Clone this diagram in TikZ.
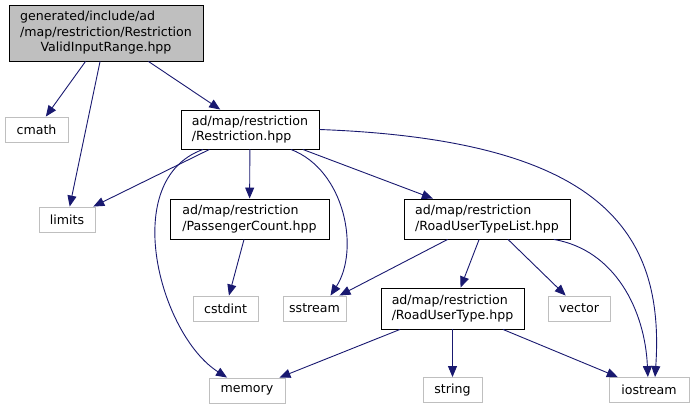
\documentclass[tikz,border=0pt]{standalone}
\usepackage{fontspec}
\setmainfont{DejaVu Sans}
\usetikzlibrary{arrows.meta}
\definecolor{edgeblue}{HTML}{191970}
\definecolor{sysgray}{HTML}{BFBFBF}

\begin{document}
\begin{tikzpicture}[x=1pt,y=-1pt,font=\fontsize{12.6}{15.5}\selectfont,
 hdr/.style={draw=black,line width=.9pt,inner sep=0pt,align=left},
 sys/.style={draw=sysgray,line width=.9pt,inner sep=0pt,minimum height=25pt},
 dep/.style={draw=edgeblue,line width=.9pt,-{Triangle[length=11pt,width=9pt]}}]
 \useasboundingbox (0,0) rectangle (693,409);
 \node[draw=black,line width=.9pt,inner sep=0pt,fill=sysgray,minimum width=194pt,minimum height=56pt] (top) at (106,33)
  {\begin{tabular}{@{}l@{}}generated/include/ad\\/map/restriction/Restriction\\\multicolumn{1}{@{}c@{}}{ValidInputRange.hpp}\end{tabular}};
 \node[sys,minimum width=63pt] (cmath) at (36.5,129.5) {cmath};
 \node[hdr,minimum width=138pt,minimum height=39pt] (restr) at (250,129.5) {ad/map/restriction\\/Restriction.hpp};
 \node[sys,minimum width=56pt] (limits) at (67,219.5) {limits};
 \node[hdr,minimum width=159pt,minimum height=40pt] (pass) at (249.5,219) {ad/map/restriction\\/PassengerCount.hpp};
 \node[hdr,minimum width=166pt,minimum height=40pt] (rutl) at (487,219) {ad/map/restriction\\/RoadUserTypeList.hpp};
 \node[sys,minimum width=65pt] (cstdint) at (225.5,308.5) {cstdint};
 \node[sys,minimum width=63pt] (sstream) at (314.5,308.5) {sstream};
 \node[hdr,minimum width=143pt,minimum height=41pt] (rut) at (452.5,308.5) {ad/map/restriction\\/RoadUserType.hpp};
 \node[sys,minimum width=62pt] (vector) at (579,308.5) {vector};
 \node[sys,minimum width=76pt] (memory) at (247,390.5) {memory};
 \node[sys,minimum width=59pt] (string) at (452.5,390) {string};
 \node[sys,minimum width=80pt] (iostream) at (649,390) {iostream};
 % includes
 \draw[dep] (top) -- (cmath);
 \draw[dep] (top) -- (limits);
 \draw[dep] (top) -- (restr);
 \draw[dep] (restr) -- (limits);
 \draw[dep] (restr.-157) .. controls (118,180) and (160,335) .. (memory.147);
 \draw[dep] (restr) -- (pass);
 \draw[dep] (restr.-26) .. controls (345,170) and (360,250) .. (sstream.39);
 \draw[dep] (restr) -- (rutl);
 \draw[dep] (restr.east) .. controls (600,140) and (665,230) .. (iostream.65);
 \draw[dep] (pass) -- (cstdint);
 \draw[dep] (rutl) -- (sstream);
 \draw[dep] (rutl) -- (rut);
 \draw[dep] (rutl) -- (vector);
 \draw[dep] (rutl.-17) .. controls (615,250) and (645,310) .. (iostream.95);
 \draw[dep] (rut) -- (memory);
 \draw[dep] (rut) -- (string);
 \draw[dep] (rut) -- (iostream);
\end{tikzpicture}
\end{document}
